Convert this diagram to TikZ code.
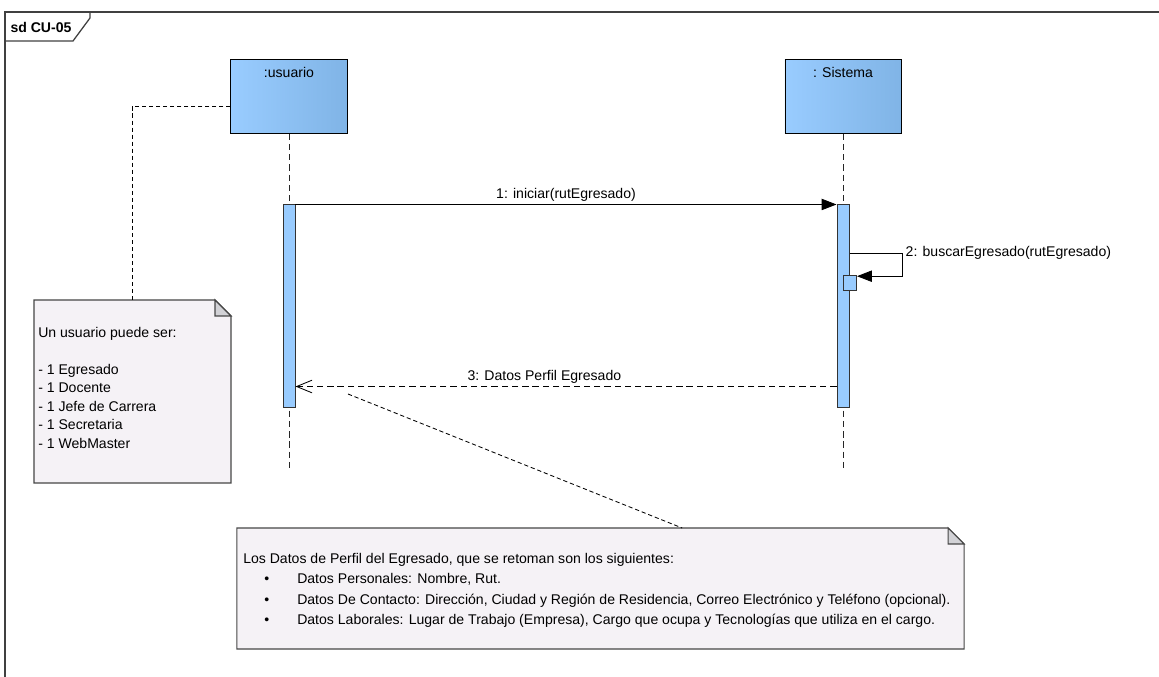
\documentclass[tikz,border=0pt]{standalone}
\usepackage{fontspec}
\setmainfont{Liberation Sans}
\usetikzlibrary{arrows.meta, positioning, calc}
\definecolor{headblue}{RGB}{153,204,255}
\definecolor{headdeep}{RGB}{128,180,230}
\definecolor{barblue}{RGB}{153,204,255}
\definecolor{notefill}{RGB}{245,242,246}
\definecolor{foldgray}{RGB}{210,210,214}
\definecolor{edgegray}{RGB}{70,70,70}
\newcommand{\notebullet}{\makebox[38.4pt][l]{\hspace*{15pt}\textbullet}}
\tikzset{
  lifehead/.style={rectangle, minimum width=2.9cm, minimum height=1.825cm, draw=black, line width=0.7pt, left color=headblue, right color=headdeep, inner sep=0pt},
  headlabel/.style={font=\fontsize{10}{12}\selectfont, inner sep=0pt},
  actbar/.style={rectangle, minimum width=0.3cm, draw=black!80, line width=0.7pt, fill=barblue, inner sep=0pt},
  lifeline/.style={dash pattern=on 4.5pt off 2.8pt, color=black!85, line width=0.6pt},
  msg/.style={line width=0.6pt, -{Triangle[length=10.5pt, width=8pt]}, color=black},
  reply/.style={line width=0.6pt, dash pattern=on 4.5pt off 2.8pt, -{Straight Barb[length=11pt, width=9pt]}, color=black},
  msglabel/.style={font=\fontsize{10}{12}\selectfont, inner sep=2pt},
  notespot/.style={rectangle, inner sep=0pt, outer sep=0pt},
  notebox/.style={fill=notefill, draw=edgegray, line width=0.8pt},
  notefold/.style={fill=foldgray, draw=edgegray, line width=0.8pt},
  noteconn/.style={dash pattern=on 3pt off 2pt, color=black, line width=0.6pt},
  notetext/.style={align=left, inner sep=0pt, anchor=north west},
  frameline/.style={draw=black!75, line width=0.9pt}
}

\begin{document}
\begin{tikzpicture}[x=0.025cm, y=-0.025cm]
    \clip (0,0) rectangle (1159,677);
    % Frame
    \draw[frameline] (5,12) rectangle (1180,700);
    \draw[frameline] (5,41) -- (73,41) -- (90,18) -- (90,12);
    \node[font=\bfseries\fontsize{10}{12}\selectfont, inner sep=0pt] (sdlabel) at (41,27) {sd CU-05};

    % Defining nodes
    \node[lifehead] (usr) at (289,96.5) {};
    \node[headlabel] (usrlabel) at ([yshift=-0.33cm]usr.north) {:usuario};
    \node[lifehead] (sys) at (843,96.5) {};
    \node[headlabel] (syslabel) at ([yshift=-0.33cm]sys.north) {: Sistema};
    \coordinate (usrEnd) at (289,470);
    \coordinate (sysEnd) at (843,470);
    \draw[lifeline] (usr.south) -- (usrEnd);
    \draw[lifeline] (sys.south) -- (sysEnd);

    \node[actbar, minimum height=5.05cm] (barU) at (289,306) {};
    \node[actbar, minimum height=5.05cm] (barS) at (843,306) {};
    \node[actbar, minimum width=0.325cm, minimum height=0.375cm, anchor=north west] (barS2) at (843,275) {};

    % Notes
    \node[notespot, minimum width=4.925cm, minimum height=4.575cm] (noteU) at (132.5,391.5) {};
    \filldraw[notebox] (noteU.north west) -- ([xshift=-0.4cm]noteU.north east) -- ([yshift=-0.4cm]noteU.north east) -- (noteU.south east) -- (noteU.south west) -- cycle;
    \filldraw[notefold] ([xshift=-0.4cm]noteU.north east) -- ([xshift=-0.4cm, yshift=-0.4cm]noteU.north east) -- ([yshift=-0.4cm]noteU.north east) -- cycle;
    \node[notetext, font=\fontsize{10}{13.1}\selectfont] (noteUtxt) at (38,327) {Un usuario puede ser:\\[13.1pt]- 1 Egresado\\- 1 Docente\\- 1 Jefe de Carrera\\- 1 Secretaria\\- 1 WebMaster};

    \node[notespot, minimum width=18.175cm, minimum height=3.025cm] (noteD) at (600.5,588.5) {};
    \filldraw[notebox] (noteD.north west) -- ([xshift=-0.4cm]noteD.north east) -- ([yshift=-0.4cm]noteD.north east) -- (noteD.south east) -- (noteD.south west) -- cycle;
    \filldraw[notefold] ([xshift=-0.4cm]noteD.north east) -- ([xshift=-0.4cm, yshift=-0.4cm]noteD.north east) -- ([yshift=-0.4cm]noteD.north east) -- cycle;
    \node[notetext, font=\fontsize{10}{14.45}\selectfont] (noteDtxt) at (243,553) {Los Datos de Perfil del Egresado, que se retoman son los siguientes:\\
      \notebullet Datos Personales: Nombre, Rut.\\
      \notebullet Datos De Contacto: Dirección, Ciudad y Región de Residencia, Correo Electrónico y Teléfono (opcional).\\
      \notebullet Datos Laborales: Lugar de Trabajo (Empresa), Cargo que ocupa y Tecnologías que utiliza en el cargo.};
    \coordinate (anc3) at (348,394);

    % Drawing arrows
    \draw[msg] (barU.north east) -- node[msglabel, above] {1: iniciar(rutEgresado)} (barS.north west);
    \draw[msg] ([yshift=1.325cm]barS.east) -- ++(53,0) node[msglabel, right] {2: buscarEgresado(rutEgresado)} |- ([yshift=-0.03cm]barS2.north east);
    \draw[reply] ([yshift=0.525cm]barS.south west) -- node[msglabel, above, pos=0.54] {3: Datos Perfil Egresado} ([yshift=0.525cm]barU.south east);
    \draw[noteconn] ([yshift=-0.2375cm]usr.west) -| (noteU.north);
    \draw[noteconn] (anc3) -- ([xshift=2.04cm]noteD.north);
\end{tikzpicture}
\end{document}
